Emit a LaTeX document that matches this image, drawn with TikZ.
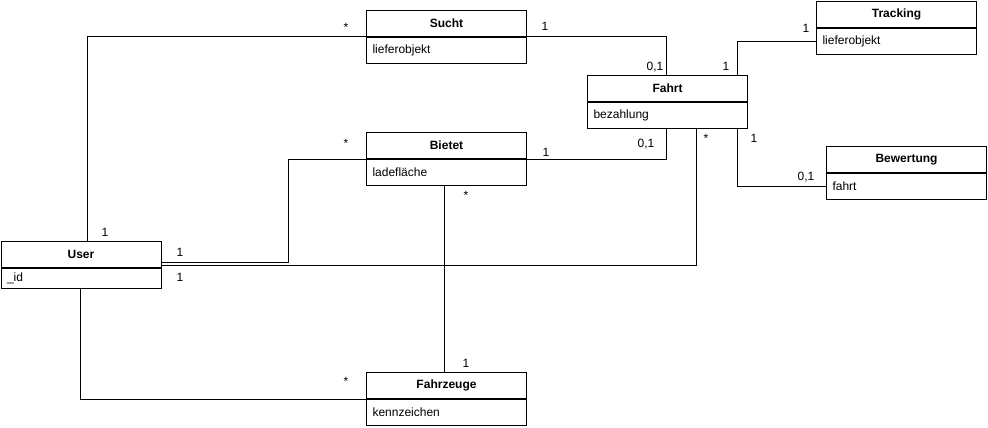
\documentclass[tikz,border=0pt]{standalone}
\usepackage{fontspec}
\setmainfont{Liberation Sans}
\usetikzlibrary{calc}
\begin{document}
\begin{tikzpicture}[x=1pt,y=-1pt,
  hdr/.style={draw, line width=1pt, minimum width=160, minimum height=26, inner sep=0pt,
    anchor=north west, font=\fontsize{12}{14}\selectfont\bfseries},
  bodybox/.style={draw, line width=1pt, minimum width=160, minimum height=26, inner xsep=6pt,
    inner ysep=0pt, text width=148, align=left, anchor=north west, font=\fontsize{12}{14}\selectfont},
  conn/.style={draw, line width=1pt},
  lbl/.style={inner sep=0pt, text height=9pt, text depth=0pt, font=\fontsize{12}{14}\selectfont}]
\useasboundingbox (0,0) rectangle (988,428);

% classes
\node[hdr] (sucht) at (366,10) {Sucht};
\node[bodybox] (suchtb) at (sucht.south west) {lieferobjekt};

\node[hdr] (fahrt) at (587,75) {Fahrt};
\node[bodybox] (fahrtb) at (fahrt.south west) {bezahlung};

\node[hdr] (tracking) at (816,1) {Tracking};
\node[bodybox] (trackingb) at (tracking.south west) {lieferobjekt};

\node[hdr] (bewertung) at (826,146) {Bewertung};
\node[bodybox] (bewertungb) at (bewertung.south west) {fahrt};

\node[hdr] (bietet) at (366,132) {Bietet};
\node[bodybox] (bietetb) at (bietet.south west) {ladefläche};

\node[hdr] (user) at (0.5,241) {User};
\node[bodybox, minimum height=20] (userb) at (user.south west) {\_id};

\node[hdr] (fahrzeuge) at (366,372) {Fahrzeuge};
\node[bodybox] (fahrzeugeb) at (fahrzeuge.south west) {kennzeichen};

% connectors
\draw[conn] ($(user.north west)+(87,0)$) |- (sucht.south west);
\draw[conn] (sucht.south east) -| ($(fahrt.north west)+(79,0)$);
\draw[conn] (trackingb.west) -| ($(fahrt.north west)+(150,0)$);
\draw[conn] ($(fahrtb.south west)+(150,0)$) |- (bewertungb.west);
\draw[conn] (bietet.south east) -| ($(fahrtb.south west)+(79,0)$);
\draw[conn] ($(user.south east)+(0,-6)$) -- ++(127,0) |- (bietet.south west);
\draw[conn] ($(user.south east)+(0,-2.5)$) -| ($(fahrtb.south west)+(109,0)$);
\draw[conn] ($(bietetb.south west)+(78,0)$) -- ($(fahrzeuge.north west)+(78,0)$);
\draw[conn] ($(userb.south west)+(80,0)$) |- (fahrzeuge.south west);

% multiplicities
\node[lbl] (m1) at (346,27) {*};
\node[lbl] (m2) at (545,26) {1};
\node[lbl] (m3) at (655,66) {0,1};
\node[lbl] (m4) at (726,66) {1};
\node[lbl] (m5) at (806,28) {1};
\node[lbl] (m6) at (646,143) {0,1};
\node[lbl] (m7) at (706,138) {*};
\node[lbl] (m8) at (754,138) {1};
\node[lbl] (m9) at (806,176) {0,1};
\node[lbl] (m10) at (346,143) {*};
\node[lbl] (m11) at (546,152) {1};
\node[lbl] (m12) at (466,195) {*};
\node[lbl] (m13) at (105,232) {1};
\node[lbl] (m14) at (180,252) {1};
\node[lbl] (m15) at (180,277) {1};
\node[lbl] (m16) at (466,363) {1};
\node[lbl] (m17) at (346,381) {*};
\end{tikzpicture}
\end{document}
